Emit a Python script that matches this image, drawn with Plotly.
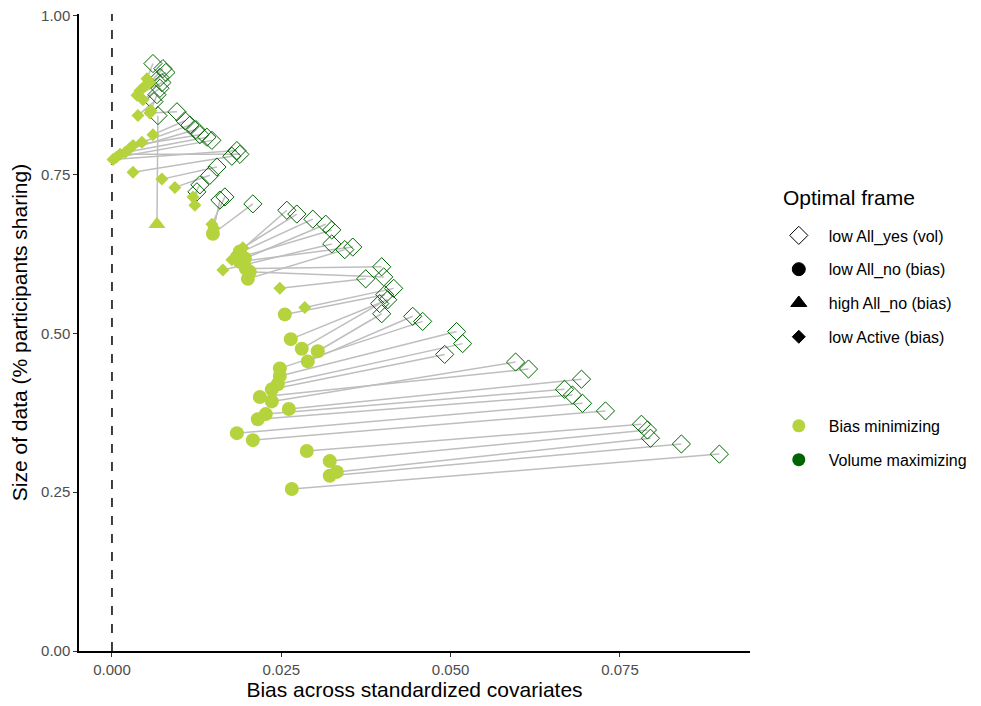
import plotly.graph_objects as go

# Bias-minimizing points (light green), shape by optimal frame
bias_x = [0.00516, 0.00560, 0.00487, 0.00413, 0.00369, 0.00457, 0.00575, 0.00383,
          0.00015, 0.00118, 0.00192, 0.00310, 0.00442, 0.00605, 0.00310, 0.00737,
          0.00929, 0.01195, 0.01224, 0.00664, 0.00059, 0.00251, 0.01490, 0.01475,
          0.01504, 0.01888, 0.01932, 0.01844, 0.01962, 0.01637, 0.02006, 0.01888,
          0.01770, 0.02478, 0.01976, 0.02035, 0.02847, 0.02552, 0.02640, 0.02802,
          0.03038, 0.02891, 0.02478, 0.02478, 0.02448, 0.02360, 0.02360, 0.02183,
          0.02611, 0.02271, 0.02153, 0.01844, 0.02080, 0.02876, 0.03215, 0.03319,
          0.03215, 0.02655, 0.00560]
bias_y = [0.901, 0.895, 0.890, 0.882, 0.875, 0.868, 0.851, 0.843,
          0.774, 0.782, 0.785, 0.796, 0.801, 0.813, 0.754, 0.743,
          0.730, 0.715, 0.702, 0.672, 0.777, 0.790, 0.657, 0.672,
          0.666, 0.629, 0.635, 0.625, 0.618, 0.600, 0.586, 0.613,
          0.616, 0.571, 0.602, 0.597, 0.541, 0.530, 0.491, 0.476,
          0.472, 0.456, 0.445, 0.433, 0.420, 0.412, 0.393, 0.400,
          0.381, 0.373, 0.365, 0.343, 0.332, 0.315, 0.299, 0.282,
          0.276, 0.255, 0.847]
bias_frame = (["low Active (bias)"] * 19 + ["high All_no (bias)"] +
              ["low Active (bias)"] * 2 + ["low All_no (bias)"] +
              ["low Active (bias)"] * 2 + ["low All_no (bias)"] +
              ["low Active (bias)"] * 2 + ["low All_no (bias)"] +
              ["low Active (bias)"] + ["low All_no (bias)"] * 2 +
              ["low Active (bias)"] * 2 + ["low All_no (bias)"] * 2 +
              ["low Active (bias)"] + ["low All_no (bias)"] * 21 +
              ["low Active (bias)"])

# Volume-maximizing points (dark green, low All_yes)
vol_x = [0.00605, 0.00752, 0.00796, 0.00708, 0.00737, 0.00708, 0.00664, 0.00619,
         0.01844, 0.01888, 0.01401, 0.01298, 0.01150, 0.01077, 0.01770, 0.01549,
         0.01445, 0.01298, 0.01254, 0.00678, 0.01475, 0.01239, 0.02080, 0.01667,
         0.01593, 0.02581, 0.02729, 0.02965, 0.03156, 0.03245, 0.03437, 0.03555,
         0.03245, 0.03746, 0.03982, 0.04012, 0.04159, 0.04027, 0.04071, 0.03953,
         0.03982, 0.04440, 0.04587, 0.05088, 0.05177, 0.04912, 0.05959, 0.06150,
         0.06932, 0.06681, 0.06799, 0.06947, 0.07286, 0.07817, 0.07906, 0.07950,
         0.08407, 0.08968, 0.00959]
vol_y = [0.925, 0.917, 0.911, 0.903, 0.895, 0.886, 0.876, 0.865,
         0.788, 0.782, 0.809, 0.813, 0.828, 0.835, 0.779, 0.762,
         0.749, 0.734, 0.723, 0.843, 0.804, 0.821, 0.704, 0.715,
         0.710, 0.694, 0.688, 0.680, 0.672, 0.641, 0.632, 0.636,
         0.663, 0.586, 0.605, 0.589, 0.571, 0.561, 0.553, 0.547,
         0.531, 0.527, 0.519, 0.503, 0.484, 0.467, 0.455, 0.444,
         0.428, 0.412, 0.403, 0.390, 0.378, 0.357, 0.348, 0.335,
         0.326, 0.310, 0.849]

x_tickvals = [0.0, 0.025, 0.05, 0.075]
x_ticktext = ["0.000", "0.025", "0.050", "0.075"]
y_tickvals = [0.0, 0.25, 0.5, 0.75, 1.0]
y_ticktext = ["0.00", "0.25", "0.50", "0.75", "1.00"]

LIGHT = "#B5D33D"
DARK = "#006400"
FONT = "Liberation Sans, Arial, sans-serif"

fig = go.Figure()

# connecting segments
seg_x, seg_y = [], []
for bx, by, vx, vy in zip(bias_x, bias_y, vol_x, vol_y):
    seg_x += [bx, vx, None]
    seg_y += [by, vy, None]
fig.add_trace(go.Scatter(x=seg_x, y=seg_y, mode="lines",
                         line=dict(color="#BEBEBE", width=1.5),
                         hoverinfo="skip", showlegend=False))

# volume-maximizing diamonds
fig.add_trace(go.Scatter(x=vol_x, y=vol_y, mode="markers",
                         marker=dict(symbol="diamond-open", size=14, color=DARK,
                                     line=dict(width=1, color=DARK)),
                         showlegend=False))

shape_map = {"low All_no (bias)": ("circle", 14),
             "high All_no (bias)": ("triangle-up", 15),
             "low Active (bias)": ("diamond", 10)}
for frame, (sym, sz) in shape_map.items():
    xs = [x for x, f in zip(bias_x, bias_frame) if f == frame]
    ys = [y for y, f in zip(bias_y, bias_frame) if f == frame]
    fig.add_trace(go.Scatter(x=xs, y=ys, mode="markers",
                             marker=dict(symbol=sym, size=sz, color=LIGHT,
                                         line=dict(width=0)),
                             showlegend=False))

# legend entries: shapes
legend_shapes = [("low All_yes (vol)", "diamond-open", 14),
                 ("low All_no (bias)", "circle", 13),
                 ("high All_no (bias)", "triangle-up", 14),
                 ("low Active (bias)", "diamond", 10)]
for i, (name, sym, sz) in enumerate(legend_shapes):
    fig.add_trace(go.Scatter(x=[None], y=[None], mode="markers", name=name,
                             legendgroup="s%d" % i,
                             marker=dict(symbol=sym, size=sz, color="black",
                                         line=dict(width=1, color="black")),
                             legend="legend"))
# legend entries: colours
for i, (name, col) in enumerate([("Bias minimizing", LIGHT), ("Volume maximizing", DARK)]):
    fig.add_trace(go.Scatter(x=[None], y=[None], mode="markers", name=name,
                             legendgroup="c%d" % i,
                             marker=dict(symbol="circle", size=13, color=col),
                             legend="legend2"))

fig.add_shape(type="line", x0=0, x1=0, y0=0, y1=1, xref="x", yref="paper",
              line=dict(color="black", width=1.5, dash="dash"), layer="below")

fig.add_annotation(text="Optimal frame", x=1.046, y=0.712, xref="paper", yref="paper",
                   xanchor="left", yanchor="middle", showarrow=False,
                   font=dict(size=21, family=FONT, color="black"))

axis_common = dict(showgrid=False, zeroline=False, showline=True, linecolor="black",
                   linewidth=1.5, ticks="outside", ticklen=4, tickcolor="#333333",
                   tickwidth=1, ticklabeloverflow="allow", automargin=False,
                   tickfont=dict(family=FONT, size=15, color="#4D4D4D"))

fig.update_layout(
    width=981, height=706,
    margin=dict(l=71, r=239, t=6, b=63),
    plot_bgcolor="white", paper_bgcolor="white",
    font=dict(family=FONT, color="black"),
    xaxis=dict(range=[-0.00487, 0.0942], tickvals=x_tickvals, ticktext=x_ticktext,
               title=dict(text="Bias across standardized covariates",
                          font=dict(size=21), standoff=4), **axis_common),
    yaxis=dict(range=[0, 1.003], tickvals=y_tickvals, ticktext=y_ticktext,
               title=dict(text="Size of data (% participants sharing)",
                          font=dict(size=21), standoff=10), **axis_common),
    legend=dict(x=1.028, y=0.679, xanchor="left", yanchor="top",
                font=dict(size=16), traceorder="grouped", tracegroupgap=10,
                itemwidth=50, bgcolor="rgba(0,0,0,0)"),
    legend2=dict(x=1.028, y=0.380, xanchor="left", yanchor="top",
                 font=dict(size=16), traceorder="grouped", tracegroupgap=10,
                 itemwidth=50, bgcolor="rgba(0,0,0,0)"),
    showlegend=True,
)

fig.write_html("out.html")
